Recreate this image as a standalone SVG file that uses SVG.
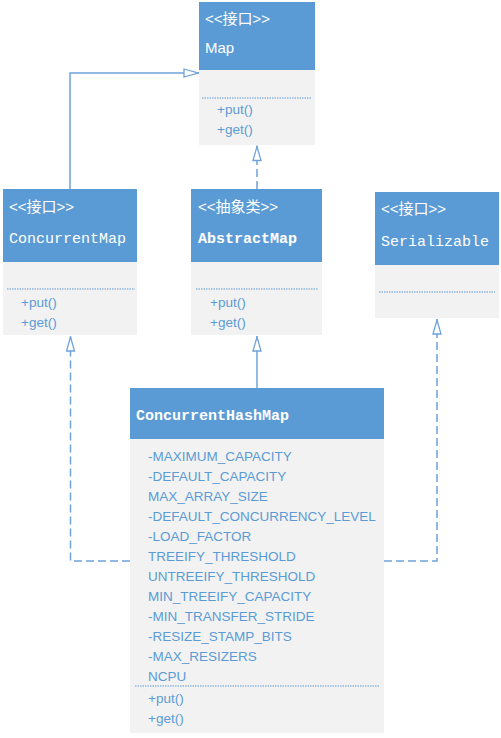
<svg xmlns="http://www.w3.org/2000/svg" width="501" height="738" viewBox="0 0 501 738">
<style>
.hd{fill:#5b9bd5}
.bd{fill:#f2f2f2}
.st{font-family:"Liberation Sans","Noto Sans CJK SC",sans-serif;font-size:15px;fill:#ffffff}
.nm{font-family:"Liberation Mono",monospace;font-size:15px;fill:#ffffff}
.nb{font-family:"Liberation Mono",monospace;font-size:15px;fill:#ffffff;font-weight:bold}
.mb{font-family:"Liberation Sans",sans-serif;font-size:13.5px;fill:#5b9bd5}
.dot{stroke:#5b9bd5;stroke-width:1;stroke-dasharray:1.5 1;fill:none}
.ln{stroke:#6fa3da;stroke-width:1.5;fill:none}
.dash{stroke-dasharray:8 4}
</style>
<defs>
<marker id="tri" viewBox="0 0 16 10" refX="16" refY="5" markerWidth="16" markerHeight="10" markerUnits="userSpaceOnUse" orient="auto">
<path d="M1,1 L15,5 L1,9 Z" fill="#ffffff" stroke="#6fa3da" stroke-width="1.3"/>
</marker>
</defs>

<g id="connectors">
<path class="ln" d="M70,189 V73 H199" marker-end="url(#tri)"/>
<path class="ln dash" d="M257,189 V145.5" marker-end="url(#tri)"/>
<path class="ln" d="M257,388 V336" marker-end="url(#tri)"/>
<path class="ln dash" d="M130,561 H70.5 V336" marker-end="url(#tri)"/>
<path class="ln dash" d="M384,561 H437 V319" marker-end="url(#tri)"/>
</g>

<g id="Map">
<rect class="bd" x="199" y="2" width="116" height="143"/>
<rect class="hd" x="199" y="2" width="116" height="68"/>
<text class="st" x="205" y="24">&lt;&lt;接口&gt;&gt;</text>
<text class="st" x="205" y="53">Map</text>
<line class="dot" x1="202" y1="98" x2="312" y2="98"/>
<text class="mb" x="217" y="114">+put()</text>
<text class="mb" x="217" y="134">+get()</text>
</g>

<g id="ConcurrentMap">
<rect class="bd" x="3" y="189" width="134" height="146"/>
<rect class="hd" x="3" y="189" width="134" height="73"/>
<text class="st" x="9" y="212">&lt;&lt;接口&gt;&gt;</text>
<text class="nm" x="9" y="243">ConcurrentMap</text>
<line class="dot" x1="7" y1="289" x2="135" y2="289"/>
<text class="mb" x="21" y="307">+put()</text>
<text class="mb" x="21" y="327">+get()</text>
</g>

<g id="AbstractMap">
<rect class="bd" x="191" y="189" width="131" height="146"/>
<rect class="hd" x="191" y="189" width="131" height="73"/>
<text class="st" x="198" y="212">&lt;&lt;抽象类&gt;&gt;</text>
<text class="nb" x="198" y="243">AbstractMap</text>
<line class="dot" x1="196" y1="289" x2="318" y2="289"/>
<text class="mb" x="210" y="307">+put()</text>
<text class="mb" x="210" y="327">+get()</text>
</g>

<g id="Serializable">
<rect class="bd" x="375" y="192" width="124" height="126"/>
<rect class="hd" x="375" y="192" width="124" height="73"/>
<text class="st" x="381" y="214">&lt;&lt;接口&gt;&gt;</text>
<text class="nm" x="381" y="246">Serializable</text>
<line class="dot" x1="379" y1="292" x2="495" y2="292"/>
</g>

<g id="ConcurrentHashMap">
<rect class="bd" x="130" y="388" width="254" height="345"/>
<rect class="hd" x="130" y="388" width="254" height="51"/>
<text class="nb" x="136" y="420">ConcurrentHashMap</text>
<text class="mb" x="148" y="461">-MAXIMUM_CAPACITY</text>
<text class="mb" x="148" y="481">-DEFAULT_CAPACITY</text>
<text class="mb" x="148" y="501">MAX_ARRAY_SIZE</text>
<text class="mb" x="148" y="521">-DEFAULT_CONCURRENCY_LEVEL</text>
<text class="mb" x="148" y="541">-LOAD_FACTOR</text>
<text class="mb" x="148" y="561">TREEIFY_THRESHOLD</text>
<text class="mb" x="148" y="581">UNTREEIFY_THRESHOLD</text>
<text class="mb" x="148" y="601">MIN_TREEIFY_CAPACITY</text>
<text class="mb" x="148" y="621">-MIN_TRANSFER_STRIDE</text>
<text class="mb" x="148" y="641">-RESIZE_STAMP_BITS</text>
<text class="mb" x="148" y="661">-MAX_RESIZERS</text>
<text class="mb" x="148" y="681">NCPU</text>
<line class="dot" x1="135" y1="686" x2="380" y2="686"/>
<text class="mb" x="148" y="703">+put()</text>
<text class="mb" x="148" y="723">+get()</text>
</g>
</svg>
